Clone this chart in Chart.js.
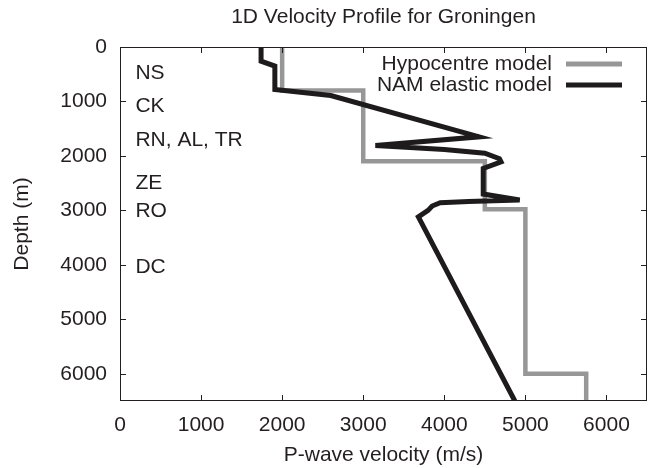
<!DOCTYPE html>
<html>
<head>
<meta charset="utf-8">
<script src="https://cdn.jsdelivr.net/npm/chart.js@4"></script>
<style>
  html, body { margin: 0; padding: 0; background: #fff; }
  #wrap { width: 654px; height: 468px; }
</style>
</head>
<body>
<div id="wrap"><canvas id="velocity_profile_chart" width="654" height="468"></canvas></div>
<script>
// Hypocentre model (step profile)
const hypoVelocity = [2000, 2000, 3000, 3000, 4500, 4500, 5000, 5000, 5750, 5750];
const hypoDepth    = [0,    800,  800,  2100, 2100, 2980, 2980, 6000, 6000, 6500];

// NAM elastic model
const namVelocity = [1740, 1740, 1910, 1910, 2600, 4430, 3150, 4000, 4500, 4680, 4700, 4480, 4480, 4930, 4300, 3950, 3850, 3800, 3680, 4870];
const namDepth    = [0,    260,  350,  780,  890,  1650, 1810, 1880, 1950, 2050, 2110, 2230, 2700, 2810, 2835, 2860, 2920, 3000, 3120, 6500];

// formation labels
const unitLabels = ['NS', 'CK', 'RN, AL, TR', 'ZE', 'RO', 'DC'];
const unitDepths = [480, 1090, 1710, 2500, 3020, 4040];
const unitVelocity = 190;

const xTicks = [0, 1000, 2000, 3000, 4000, 5000, 6000];
const yTicks = [0, 1000, 2000, 3000, 4000, 5000, 6000];

const seriesNames = ['Hypocentre model', 'NAM elastic model'];
const seriesColors = ['#979797', '#1e1b1c'];

const FONT = '"Liberation Sans", Arial, sans-serif';
const TEXT = '#231f20';

function toPoints(vs, ds) {
  return vs.map(function (v, i) { return { x: v, y: ds[i] }; });
}

// frame, inward ticks, labels, legend, titles
const decorations = {
  id: 'decorations',
  afterDraw: function (chart) {
    const ctx = chart.ctx;
    const a = chart.chartArea;
    const xs = chart.scales.x, ys = chart.scales.y;
    ctx.save();
    ctx.strokeStyle = TEXT;
    ctx.lineWidth = 1;
    ctx.strokeRect(a.left + 0.5, a.top + 0.5, a.right - a.left - 1, a.bottom - a.top - 1);
    ctx.beginPath();
    xTicks.forEach(function (v) {
      const px = Math.round(xs.getPixelForValue(v)) + 0.5;
      ctx.moveTo(px, a.bottom); ctx.lineTo(px, a.bottom - 6);
      ctx.moveTo(px, a.top); ctx.lineTo(px, a.top + 6);
    });
    yTicks.forEach(function (v) {
      const py = Math.round(ys.getPixelForValue(v)) + 0.5;
      ctx.moveTo(a.left, py); ctx.lineTo(a.left + 6, py);
      ctx.moveTo(a.right, py); ctx.lineTo(a.right - 6, py);
    });
    ctx.stroke();

    ctx.fillStyle = TEXT;
    ctx.font = '21px ' + FONT;
    ctx.textBaseline = 'middle';
    ctx.textAlign = 'left';
    unitLabels.forEach(function (t, i) {
      ctx.fillText(t, xs.getPixelForValue(unitVelocity), ys.getPixelForValue(unitDepths[i]));
    });

    // legend
    ctx.textAlign = 'right';
    [64, 85].forEach(function (y, i) {
      ctx.fillText(seriesNames[i], 552, y);
      ctx.strokeStyle = seriesColors[i];
      ctx.lineWidth = 5;
      ctx.beginPath();
      ctx.moveTo(566, y);
      ctx.lineTo(622, y);
      ctx.stroke();
    });

    // titles
    ctx.textAlign = 'center';
    ctx.fillText('1D Velocity Profile for Groningen', (a.left + a.right) / 2, 17);
    ctx.fillText('P-wave velocity (m/s)', (a.left + a.right) / 2, 455);
    ctx.translate(22, (a.top + a.bottom) / 2);
    ctx.rotate(-Math.PI / 2);
    ctx.fillText('Depth (m)', 0, 0);
    ctx.restore();
  }
};

document.addEventListener('DOMContentLoaded', function () {
  const ctx = document.getElementById('velocity_profile_chart').getContext('2d');
  new Chart(ctx, {
    type: 'scatter',
    data: {
      datasets: [{
        label: seriesNames[1],
        data: toPoints(namVelocity, namDepth),
        showLine: true,
        borderColor: seriesColors[1],
        borderWidth: 5,
        pointRadius: 0,
        borderJoinStyle: 'miter',
        order: 0
      }, {
        label: seriesNames[0],
        data: toPoints(hypoVelocity, hypoDepth),
        showLine: true,
        borderColor: seriesColors[0],
        borderWidth: 4.5,
        pointRadius: 0,
        borderJoinStyle: 'miter',
        order: 1
      }]
    },
    options: {
      responsive: false,
      animation: false,
      layout: { padding: { top: 47, right: 7, left: 0, bottom: 0 } },
      plugins: {
        legend: { display: false },
        title: { display: false },
        tooltip: { enabled: false }
      },
      scales: {
        x: {
          type: 'linear',
          min: 0,
          max: 6500,
          grid: { display: false, drawTicks: false },
          border: { display: false },
          afterBuildTicks: function (s) { s.ticks = xTicks.map(function (v) { return { value: v }; }); },
          ticks: {
            autoSkip: false,
            padding: 12,
            color: TEXT,
            font: { family: FONT, size: 21 },
            maxRotation: 0,
            callback: function (v) { return String(v); }
          },
          afterFit: function (s) { s.height = 67; s.paddingRight = 0; s.paddingLeft = 0; }
        },
        y: {
          type: 'linear',
          reverse: true,
          min: 0,
          max: 6500,
          grid: { display: false, drawTicks: false },
          border: { display: false },
          afterBuildTicks: function (s) { s.ticks = yTicks.map(function (v) { return { value: v }; }); },
          ticks: {
            autoSkip: false,
            padding: 13,
            color: TEXT,
            font: { family: FONT, size: 21 },
            callback: function (v) { return String(v); }
          },
          afterFit: function (s) { s.width = 120; s.paddingTop = 0; s.paddingBottom = 0; }
        }
      }
    },
    plugins: [decorations]
  });
});
</script>
</body>
</html>
